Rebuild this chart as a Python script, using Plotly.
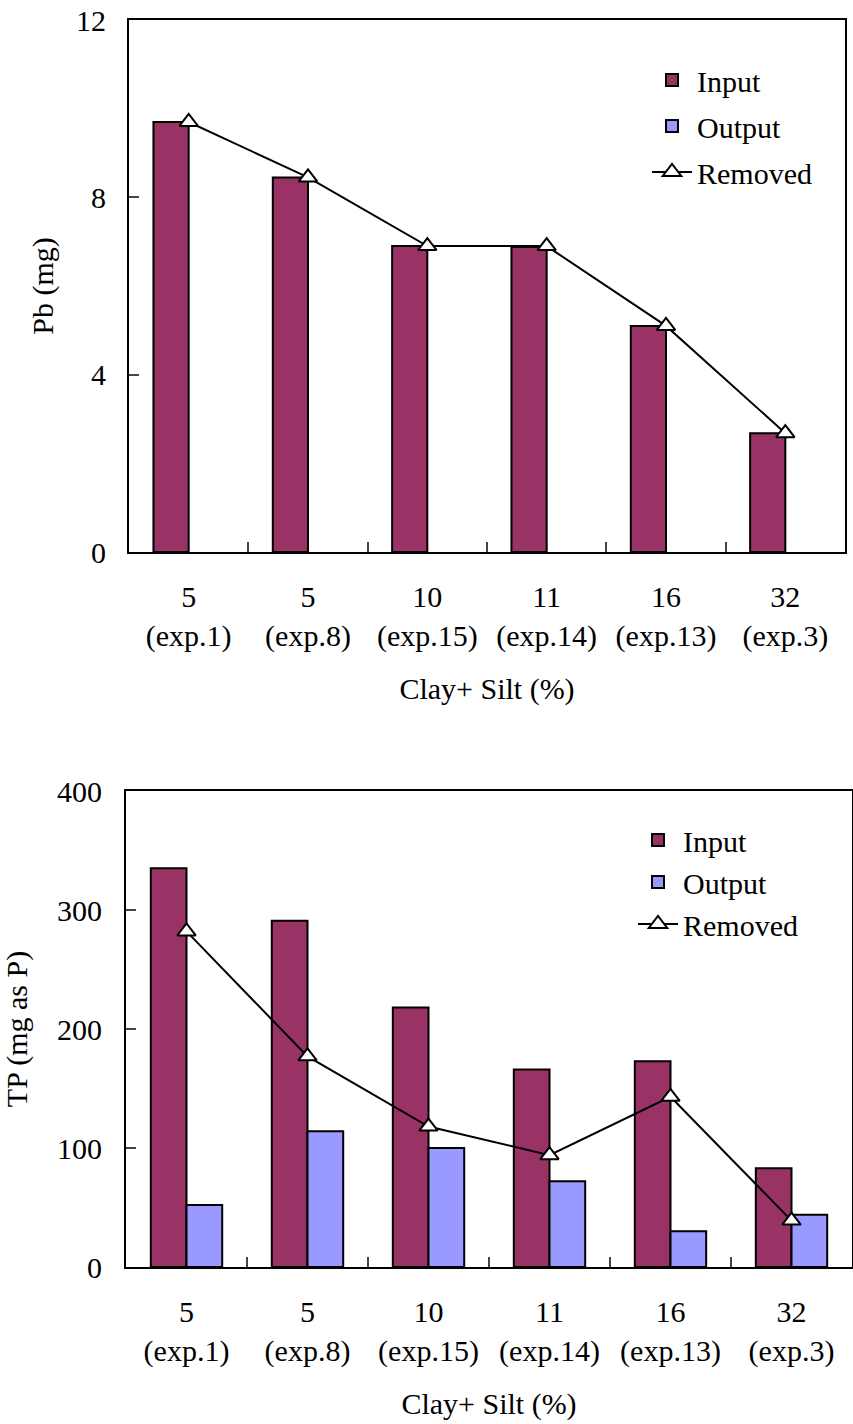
import plotly.graph_objects as go

categories = ["5<br>(exp.1)", "5<br>(exp.8)", "10<br>(exp.15)", "11<br>(exp.14)", "16<br>(exp.13)", "32<br>(exp.3)"]

pb_input = [9.7, 8.45, 6.9, 6.88, 5.1, 2.68]
pb_output = [0, 0, 0, 0, 0, 0]
pb_removed = [9.7, 8.45, 6.9, 6.9, 5.1, 2.68]

tp_input = [335, 291, 218, 166, 173, 83]
tp_output = [52, 114, 100, 72, 30, 44]
tp_removed = [282, 177, 118, 94, 143, 39]

pb_ticks = [0, 4, 8, 12]
tp_ticks = [0, 100, 200, 300, 400]

INPUT_COLOR = "#993366"
OUTPUT_COLOR = "#9999FF"
FONT = "Times New Roman"
FS = 30

fig = go.Figure()


def nz(vals):
    # zero-height bars are not drawn (avoids a stray outline on the axis)
    return [v if v > 0 else None for v in vals]


def add_set(xa, ya, leg, inp, outp, rem):
    fig.add_trace(go.Bar(x=categories, y=nz(inp), name="Input", xaxis=xa, yaxis=ya, legend=leg,
                         legendgroup=leg + "a",
                         marker=dict(color=INPUT_COLOR, line=dict(color="black", width=2))))
    fig.add_trace(go.Bar(x=categories, y=nz(outp), name="Output", xaxis=xa, yaxis=ya, legend=leg,
                         legendgroup=leg + "b",
                         marker=dict(color=OUTPUT_COLOR, line=dict(color="black", width=2))))
    fig.add_trace(go.Scatter(x=categories, y=rem, name="Removed", xaxis=xa, yaxis=ya, legend=leg,
                             legendgroup=leg + "c",
                             mode="lines+markers", line=dict(color="black", width=2),
                             marker=dict(symbol="triangle-up", size=16, color="white",
                                         line=dict(color="black", width=2))))


add_set("x", "y", "legend", pb_input, pb_output, pb_removed)
add_set("x2", "y2", "legend2", tp_input, tp_output, tp_removed)

H = 1424.0
W = 853.0

axis_common = dict(showline=True, linecolor="black", linewidth=2, mirror=True,
                   ticks="inside", ticklen=10, tickcolor="#444", tickwidth=1.5,
                   showgrid=False, zeroline=False, automargin=False,
                   tickfont=dict(family=FONT, size=FS, color="black"))

fig.update_layout(
    template="none",
    width=853, height=1424,
    margin=dict(l=0, r=0, t=0, b=0, autoexpand=False),
    paper_bgcolor="white", plot_bgcolor="white",
    barmode="group", bargap=0.41, bargroupgap=0,
    font=dict(family=FONT, size=FS, color="black"),
    showlegend=True,
    xaxis=dict(domain=[129 / W, 845 / W], anchor="y", type="category",
               tickson="boundaries", ticklabelstandoff=17,
               title=dict(text="Clay+ Silt (%)", standoff=26, font=dict(family=FONT, size=FS)),
               **axis_common),
    yaxis=dict(domain=[(H - 552) / H, (H - 20) / H], anchor="x", range=[0, 12],
               tickvals=pb_ticks, ticklabelstandoff=15,
               title=dict(text="Pb (mg)", standoff=14, font=dict(family=FONT, size=FS)),
               **axis_common),
    xaxis2=dict(domain=[126 / W, 852 / W], anchor="y2", type="category",
                tickson="boundaries", ticklabelstandoff=17,
                title=dict(text="Clay+ Silt (%)", standoff=26, font=dict(family=FONT, size=FS)),
                **axis_common),
    yaxis2=dict(domain=[(H - 1267) / H, (H - 791) / H], anchor="x2", range=[0, 400],
                tickvals=tp_ticks, ticklabelstandoff=16,
                title=dict(text="TP (mg as P)", standoff=21, font=dict(family=FONT, size=FS)),
                **axis_common),
    legend=dict(x=647 / W, y=(H - 54) / H, xanchor="left", yanchor="top",
                bgcolor="rgba(0,0,0,0)", font=dict(family=FONT, size=FS),
                traceorder="grouped", tracegroupgap=4, itemwidth=40),
    legend2=dict(x=633 / W, y=(H - 814) / H, xanchor="left", yanchor="top",
                 bgcolor="rgba(0,0,0,0)", font=dict(family=FONT, size=FS),
                 traceorder="grouped", tracegroupgap=0, itemwidth=40),
)

fig.write_html("out.html")
